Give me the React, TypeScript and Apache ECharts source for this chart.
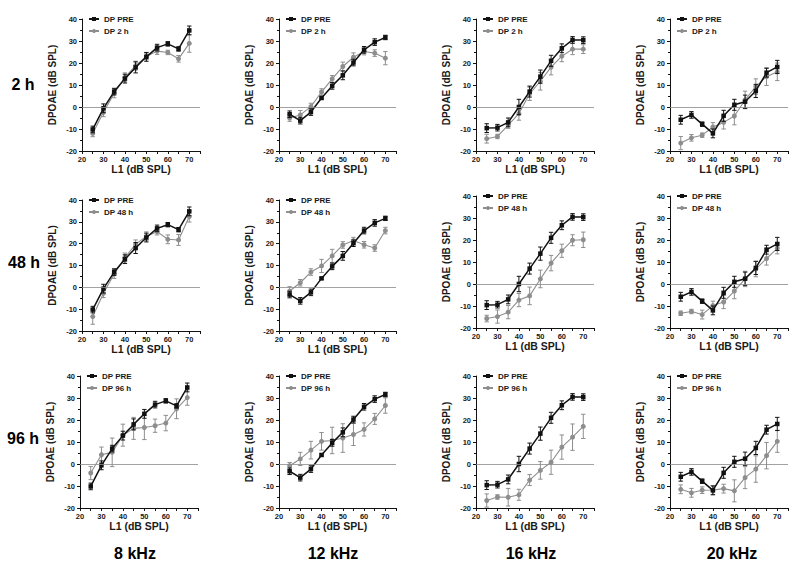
import { useEffect, useRef } from 'react';
import * as echarts from 'echarts';

// L1 levels (dB SPL)
const L1 = [25, 30, 35, 40, 45, 50, 55, 60, 65, 70];

// Pre-exposure DPOAE (same in every row of a column)
const PRE_8K = [-10.2, -0.6, 7.0, 12.9, 18.0, 22.8, 27.0, 28.7, 26.4, 34.8];
const PRE_8K_ERR = [1.5, 2, 1.5, 2, 2.5, 2, 1.5, 1, 1, 2];
const PRE_12K = [-3.3, -6.2, -2.3, 4.1, 9.6, 14.4, 20.2, 26.0, 29.5, 31.6];
const PRE_12K_ERR = [1.5, 1.5, 1.5, 0.5, 1.5, 2, 1.5, 1.5, 1.5, 1];
const PRE_16K = [-9.6, -9.4, -7.0, 0.0, 7.0, 13.8, 21.0, 26.7, 30.5, 30.4];
const PRE_16K_ERR = [2, 1.5, 2, 3.5, 2.5, 3, 2.5, 2, 1.5, 1.5];
const PRE_20K = [-5.8, -3.6, -7.8, -12.0, -4.0, 1.0, 2.4, 7.3, 15.6, 18.2];
const PRE_20K_ERR = [2, 1.5, 1, 2, 2.5, 2.5, 3, 3, 2, 3];

// 2 h
const H2_8K = [-12.0, -2.4, 6.2, 13.5, 18.8, 23.0, 25.4, 24.8, 21.9, 28.9];
const H2_8K_ERR = [1.5, 2, 2, 2, 2, 1.5, 1.5, 1, 1.5, 4];
const H2_12K = [-5.0, -3.6, 0.2, 6.8, 12.8, 18.4, 22.6, 25.2, 24.5, 22.2];
const H2_12K_ERR = [1.5, 2, 1.5, 1.5, 1.5, 2, 2, 1.5, 1.5, 3];
const H2_16K = [-14.4, -13.4, -8.2, -3.0, 6.0, 11.7, 18.1, 23.1, 26.3, 26.3];
const H2_16K_ERR = [2, 1, 1.5, 3, 3, 4, 3.5, 2.5, 2.5, 2];
const H2_20K = [-16.4, -14.0, -12.8, -9.1, -7.0, -4.1, 3.2, 9.3, 13.8, 16.0];
const H2_20K_ERR = [3, 1.5, 1, 2, 3, 4, 4, 3.5, 4, 4];

// 48 h
const H48_8K = [-13.4, -2.7, 6.1, 13.7, 19.7, 23.4, 25.5, 22.0, 21.7, 32.4];
const H48_8K_ERR = [3.5, 2, 2, 2, 2, 2, 1.5, 2, 2.5, 2.5];
const H48_12K = [-1.7, 2.1, 7.0, 9.8, 14.4, 19.4, 21.4, 19.5, 18.0, 26.0];
const H48_12K_ERR = [2, 1.5, 1.5, 3, 3, 1.5, 1.5, 1.5, 1.5, 1.5];
const H48_16K = [-15.7, -14.8, -12.8, -7.3, -5.4, 2.3, 9.5, 15.1, 19.9, 20.1];
const H48_16K_ERR = [1.5, 3, 3, 3, 4, 4, 3.5, 3, 2.5, 3.5];
const H48_20K = [-13.3, -12.5, -13.9, -9.8, -8.2, -3.2, 2.3, 6.8, 11.6, 16.2];
const H48_20K_ERR = [1, 1, 2, 2, 3, 3.5, 3.5, 3.5, 3, 2.5];

// 96 h
const H96_8K = [-4.1, 4.2, 5.3, 13.1, 16.2, 16.6, 17.4, 18.6, 25.1, 30.2];
const H96_8K_ERR = [3, 3.5, 6.5, 5, 5, 5.5, 3, 3.5, 4.5, 3.5];
const H96_12K = [-0.8, 2.3, 6.3, 10.3, 10.7, 11.8, 13.4, 15.7, 20.5, 26.6];
const H96_12K_ERR = [1.5, 3, 4, 4, 6, 6.5, 5, 3, 2.5, 3.5];
const H96_16K = [-16.6, -15.0, -15.1, -14.0, -7.3, -2.9, 0.8, 7.7, 12.2, 17.1];
const H96_16K_ERR = [3, 1, 4, 2.5, 2.5, 4, 5.5, 5.5, 6, 5.5];
const H96_20K = [-11.5, -13.1, -11.9, -11.8, -11.2, -12.2, -6.2, -2.3, 3.8, 10.3];
const H96_20K_ERR = [2, 2, 1.5, 2, 2, 5, 5, 6, 6, 5];

const ROW_LABELS = ['2 h', '48 h', '96 h'];
const COL_LABELS = ['8 kHz', '12 kHz', '16 kHz', '20 kHz'];
const POST_NAMES = ['DP 2 h', 'DP 48 h', 'DP 96 h'];
const PRE_NAME = 'DP PRE';
const Y_TITLE = 'DPOAE (dB SPL)';
const X_TITLE = 'L1 (dB SPL)';

const PRE = [PRE_8K, PRE_12K, PRE_16K, PRE_20K];
const PRE_ERR = [PRE_8K_ERR, PRE_12K_ERR, PRE_16K_ERR, PRE_20K_ERR];
const POST = [
  [H2_8K, H2_12K, H2_16K, H2_20K],
  [H48_8K, H48_12K, H48_16K, H48_20K],
  [H96_8K, H96_12K, H96_16K, H96_20K],
];
const POST_ERR = [
  [H2_8K_ERR, H2_12K_ERR, H2_16K_ERR, H2_20K_ERR],
  [H48_8K_ERR, H48_12K_ERR, H48_16K_ERR, H48_20K_ERR],
  [H96_8K_ERR, H96_12K_ERR, H96_16K_ERR, H96_20K_ERR],
];

// layout (pixels)
const PANEL_LEFT = [
  [82, 279, 476, 670],
  [82, 279, 476, 670],
  [80, 279, 476, 670],
];
const PANEL_TOP = [
  [19, 19, 19, 19],
  [200, 200, 196, 196],
  [376, 376, 376, 376],
];
const PANEL_H = [
  [132, 132, 132, 132],
  [131, 131, 132, 132],
  [132, 132, 132, 132],
];
const PANEL_W = [118, 117, 118, 118];

const FONT = '"Liberation Sans", Arial, Helvetica, sans-serif';
const BLACK = '#111111';
const GREY = '#8e8e8e';
const TXT = '#1a1a1a';

function errSeries(color: string, vals: number[], errs: number[], idx: number) {
  return {
    type: 'custom',
    xAxisIndex: idx,
    yAxisIndex: idx,
    silent: true,
    z: 3,
    encode: { x: 0, y: [1, 2] },
    data: L1.map((x, k) => [x, vals[k] - errs[k], vals[k] + errs[k]]),
    renderItem: (params: any, api: any) => {
      const x = api.value(0);
      const lo = api.coord([x, api.value(1)]);
      const hi = api.coord([x, api.value(2)]);
      const h = 2.2;
      const st = { stroke: color, lineWidth: 1 };
      return {
        type: 'group',
        children: [
          { type: 'line', shape: { x1: lo[0], y1: lo[1], x2: hi[0], y2: hi[1] }, style: st },
          { type: 'line', shape: { x1: lo[0] - h, y1: lo[1], x2: lo[0] + h, y2: lo[1] }, style: st },
          { type: 'line', shape: { x1: hi[0] - h, y1: hi[1], x2: hi[0] + h, y2: hi[1] }, style: st },
        ],
      };
    },
  };
}

function buildOption() {
  const grid: any[] = [];
  const xAxis: any[] = [];
  const yAxis: any[] = [];
  const series: any[] = [];
  const legend: any[] = [];
  const graphic: any[] = [];

  for (let r = 0; r < 3; r++) {
    for (let c = 0; c < 4; c++) {
      const idx = r * 4 + c;
      const left = PANEL_LEFT[r][c];
      const top = PANEL_TOP[r][c];
      grid.push({ left, top, width: PANEL_W[c], height: PANEL_H[r][c] });
      xAxis.push({
        type: 'value',
        gridIndex: idx,
        min: 20,
        max: 75,
        interval: 5,
        name: X_TITLE,
        nameLocation: 'middle',
        nameGap: 12,
        nameTextStyle: { fontFamily: FONT, fontWeight: 'bold', fontSize: 10.5, color: TXT },
        axisLine: { onZero: false, lineStyle: { color: '#111', width: 1 } },
        axisTick: { show: true, length: 3, lineStyle: { color: '#111' } },
        axisLabel: {
          margin: 4,
          fontFamily: FONT,
          fontWeight: 'bold',
          fontSize: 7.5,
          color: TXT,
          formatter: (v: number) => (v % 10 === 0 && v <= 70 ? String(v) : ''),
        },
        splitLine: { show: false },
      });
      yAxis.push({
        type: 'value',
        gridIndex: idx,
        min: -20,
        max: 40,
        interval: 10,
        name: Y_TITLE,
        nameLocation: 'middle',
        nameGap: 25,
        nameTextStyle: { fontFamily: FONT, fontWeight: 'bold', fontSize: 10, color: TXT },
        axisLine: { show: true, onZero: false, lineStyle: { color: '#111', width: 1 } },
        axisTick: { show: true, length: 3, lineStyle: { color: '#111' } },
        minorTick: { show: true, splitNumber: 2, length: 2, lineStyle: { color: '#111' } },
        axisLabel: { margin: 5, fontFamily: FONT, fontWeight: 'bold', fontSize: 7.5, color: TXT },
        splitLine: { show: false },
      });

      const post = POST[r][c];
      const postErr = POST_ERR[r][c];
      const pre = PRE[c];
      const preErr = PRE_ERR[c];

      series.push({
        type: 'line',
        name: POST_NAMES[r],
        xAxisIndex: idx,
        yAxisIndex: idx,
        data: L1.map((x, k) => [x, post[k]]),
        color: GREY,
        symbol: 'circle',
        symbolSize: 5,
        lineStyle: { color: GREY, width: 1.1 },
        itemStyle: { color: GREY },
        z: 2,
        markLine: {
          silent: true,
          symbol: ['none', 'none'],
          label: { show: false },
          lineStyle: { color: '#8a8a8a', width: 0.8, type: 'solid' },
          data: [{ yAxis: 0 }],
        },
      });
      series.push(errSeries(GREY, post, postErr, idx));
      series.push({
        type: 'line',
        name: PRE_NAME,
        xAxisIndex: idx,
        yAxisIndex: idx,
        data: L1.map((x, k) => [x, pre[k]]),
        color: BLACK,
        symbol: 'rect',
        symbolSize: 4.5,
        lineStyle: { color: BLACK, width: 1.5 },
        itemStyle: { color: BLACK },
        z: 4,
      });
      series.push(errSeries(BLACK, pre, preErr, idx));

      legend.push({
        data: [PRE_NAME, POST_NAMES[r]],
        orient: 'vertical',
        left: left + 6,
        top: top - 4,
        itemWidth: 10,
        itemHeight: 5,
        itemGap: 4,
        padding: 0,
        selectedMode: false,
        textStyle: { fontFamily: FONT, fontWeight: 'bold', fontSize: 8, color: TXT },
      });
    }
  }

  const rowY = [84, 262, 438];
  const rowX = [23, 24, 23];
  ROW_LABELS.forEach((t, r) => {
    graphic.push({
      type: 'text',
      x: rowX[r],
      y: rowY[r],
      style: {
        text: t,
        fontFamily: FONT,
        fontWeight: 'bold',
        fontSize: 16,
        fill: '#000',
        align: 'center',
        verticalAlign: 'middle',
      },
    });
  });
  const colX = [135, 333, 531, 732];
  COL_LABELS.forEach((t, c) => {
    graphic.push({
      type: 'text',
      x: colX[c],
      y: 553,
      style: {
        text: t,
        fontFamily: FONT,
        fontWeight: 'bold',
        fontSize: 16,
        fill: '#000',
        align: 'center',
        verticalAlign: 'middle',
      },
    });
  });

  return {
    animation: false,
    backgroundColor: '#ffffff',
    grid,
    xAxis,
    yAxis,
    series,
    legend,
    graphic,
  };
}

export default function App() {
  const ref = useRef<HTMLDivElement>(null);
  useEffect(() => {
    if (!ref.current) return;
    const chart = echarts.init(ref.current, undefined, { renderer: 'svg' });
    chart.setOption(buildOption() as any);
    return () => chart.dispose();
  }, []);
  return (
    <div
      ref={ref}
      style={{ position: 'fixed', left: 0, top: 0, width: 800, height: 572, background: '#fff' }}
    />
  );
}
